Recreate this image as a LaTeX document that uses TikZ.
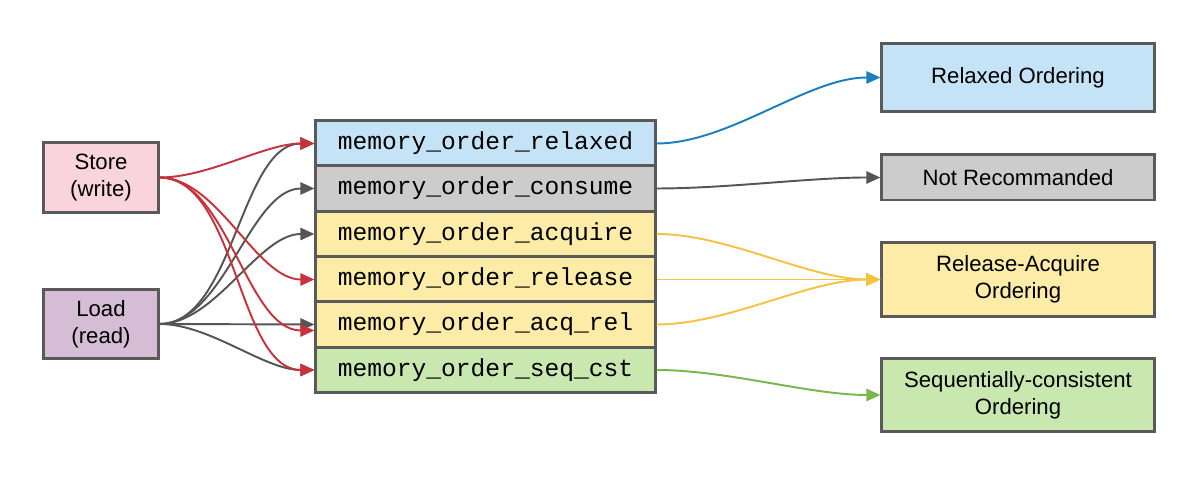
\documentclass[tikz,border=0pt]{standalone}
\usepackage{fontspec}
\setmainfont{Liberation Sans}
\setmonofont{Liberation Mono}
\usetikzlibrary{arrows.meta}
\definecolor{bd}{HTML}{5A5A5A}
\definecolor{cblue}{HTML}{C5E3F6}
\definecolor{cgray}{HTML}{CCCCCC}
\definecolor{cyel}{HTML}{FDEBA8}
\definecolor{cgreen}{HTML}{C8E8B0}
\definecolor{cpink}{HTML}{F9D3DD}
\definecolor{cpur}{HTML}{D4BDD5}
\definecolor{ablue}{HTML}{1A7FC0}
\definecolor{agray}{HTML}{555555}
\definecolor{ayel}{HTML}{F5C242}
\definecolor{agreen}{HTML}{7AB648}
\definecolor{ared}{HTML}{C8323C}
\begin{document}
\begin{tikzpicture}[x=0.01cm,y=-0.01cm,
  bx/.style={draw=bd,line width=0.85pt,inner sep=0pt,align=center,font=\fontsize{6.3}{7.6}\selectfont},
  mb/.style={bx,minimum width=339\pgflinewidth*0+3.39cm,minimum height=0.45cm,font=\ttfamily\fontsize{7}{8}\selectfont},
  ar/.style={-{Triangle[length=4pt,width=3.5pt]},line width=0.55pt,out=0,in=180,looseness=0.8}]
\useasboundingbox (0,0) rectangle (1200,477);
\node[bx,fill=cpink,minimum width=1.14cm,minimum height=0.69cm] (st) at (101,177.5) {Store\\(write)};
\node[bx,fill=cpur,minimum width=1.14cm,minimum height=0.68cm] (ld) at (101,324) {Load\\(read)};
\node[mb,fill=cblue] (m1) at (485.5,143.5) {memory\_order\_relaxed};
\node[mb,fill=cgray] (m2) at (485.5,188.5) {memory\_order\_consume};
\node[mb,fill=cyel] (m3) at (485.5,234) {memory\_order\_acquire};
\node[mb,fill=cyel] (m4) at (485.5,279.5) {memory\_order\_release};
\node[mb,fill=cyel] (m5) at (485.5,324.5) {memory\_order\_acq\_rel};
\node[mb,fill=cgreen] (m6) at (485.5,370) {memory\_order\_seq\_cst};
\node[bx,fill=cblue,minimum width=2.72cm,minimum height=0.67cm] (r1) at (1018,77.5) {Relaxed Ordering};
\node[bx,fill=cgray,minimum width=2.72cm,minimum height=0.45cm] (r2) at (1018,177.5) {Not Recommanded};
\node[bx,fill=cyel,minimum width=2.72cm,minimum height=0.73cm] (r3) at (1018,279.5) {Release-Acquire\\Ordering};
\node[bx,fill=cgreen,minimum width=2.72cm,minimum height=0.72cm] (r4) at (1018,395) {Sequentially-consistent\\Ordering};
% load (gray)
\foreach \t in {m1,m2,m3,m6} \draw[ar,agray] (ld.east) to (\t.west);
\draw[ar,agray] (ld.east) -- (m5.west);
% store (red)
\foreach \t in {m1,m4,m6} \draw[ar,ared] (st.east) to (\t.west);
\draw[ar,ared] (st.east) to ([yshift=-0.06cm]m5.west);
% right
\draw[ar,ablue] (m1.east) to (r1.west);
\draw[ar,agray] (m2.east) to (r2.west);
\foreach \s in {m3,m4,m5} \draw[ar,ayel] (\s.east) to (r3.west);
\draw[ar,agreen] (m6.east) to (r4.west);
\end{tikzpicture}
\end{document}
